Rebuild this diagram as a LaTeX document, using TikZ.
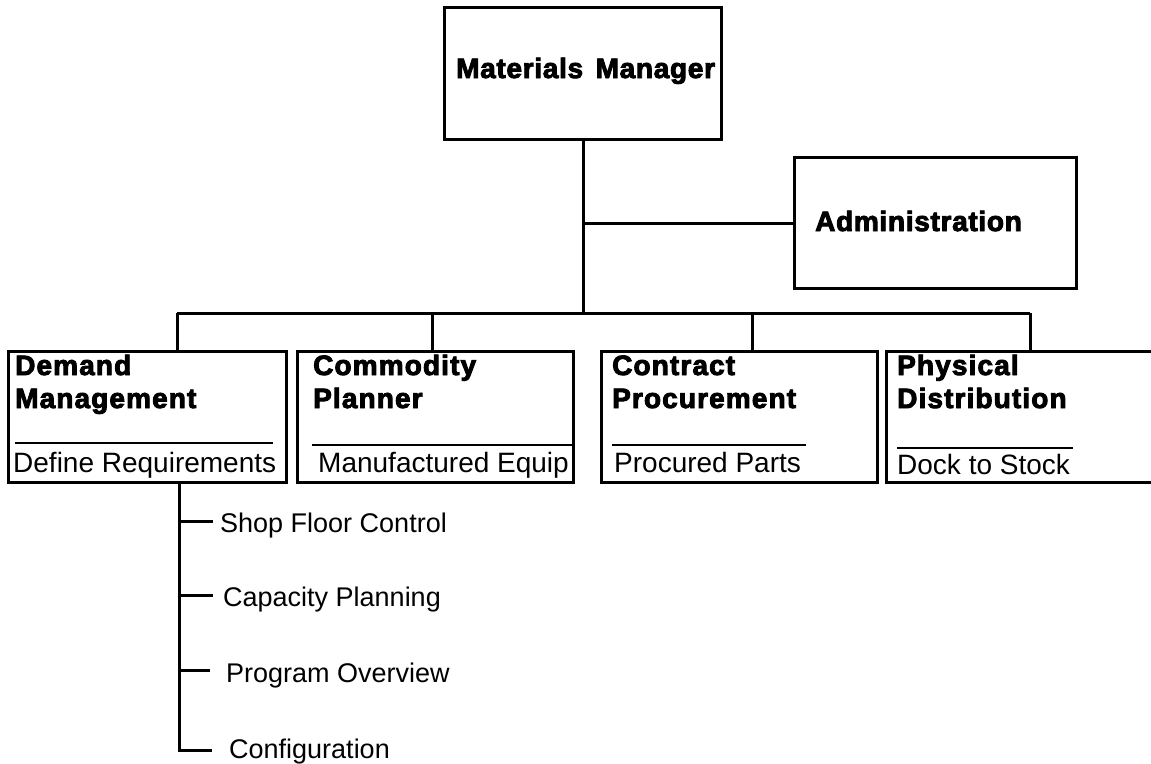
\documentclass[tikz,border=0pt]{standalone}
\usepackage{fontspec}
\setmainfont{Liberation Sans}
\newfontfamily\headfont{Liberation Sans}[LetterSpace=4]
\newfontfamily\topfont{Liberation Sans}[LetterSpace=2.5]
% heavier bold: fill and stroke the glyph outlines
\newcommand\heavy[1]{\special{pdf:literal direct 2 Tr 0.9 w}#1\special{pdf:literal direct 0 Tr}}
\begin{document}
\begin{tikzpicture}[x=1pt,y=-1pt,
  box/.style={draw, line width=3pt, inner sep=0pt, anchor=north west},
  conn/.style={line width=3pt},
  rule/.style={line width=2pt},
  head/.style={inner sep=0pt, anchor=base west, font=\headfont\bfseries\fontsize{28}{33}\selectfont},
  tophead/.style={inner sep=0pt, anchor=base west, font=\topfont\bfseries\fontsize{28}{33}\selectfont},
  sub/.style={inner sep=0pt, anchor=base west, font=\fontsize{28}{33}\selectfont},
  task/.style={inner sep=0pt, anchor=base west, font=\fontsize{27}{32}\selectfont}]
\useasboundingbox (0,0) rectangle (1151,763);

% top level and staff box
\node[box, minimum width=277pt, minimum height=132pt] (mm) at (443,6) {};
\node[tophead] (mmt) at (456,78) {\heavy{Materials\hspace{4pt} Manager}};
\node[box, minimum width=282pt, minimum height=131pt] (adm) at (793,156) {};
\node[tophead] (admt) at (815,231) {\heavy{Administration}};

% department boxes
\node[box, minimum width=278pt, minimum height=131pt] (b1) at (7,350) {};
\node[box, minimum width=276pt, minimum height=131pt] (b2) at (296,350) {};
\node[box, minimum width=276pt, minimum height=131pt] (b3) at (600,350) {};
\node[box, minimum width=300pt, minimum height=131pt] (b4) at (885,350) {};

\node[head] (b1a) at (15,375) {\heavy{Demand}};
\node[head] (b1b) at (15,408) {\heavy{Management}};
\node[sub] (b1c) at (13,472) {Define Requirements};
\node[head] (b2a) at (313,375) {\heavy{Commodity}};
\node[head] (b2b) at (313,408) {\heavy{Planner}};
\node[sub] (b2c) at (318,472) {Manufactured Equip};
\node[head] (b3a) at (612,375) {\heavy{Contract}};
\node[head] (b3b) at (612,408) {\heavy{Procurement}};
\node[sub] (b3c) at (614,472) {Procured Parts};
\node[head] (b4a) at (897,375) {\heavy{Physical}};
\node[head] (b4b) at (897,408) {\heavy{Distribution}};
\node[sub] (b4c) at (897,474) {Dock to Stock};

% rules under the department names
\draw[rule] (15,443) -- (273,443);
\draw[rule] (312,445) -- (b2.east |- 0,445);
\draw[rule] (612,445) -- (806,445);
\draw[rule] (897,448) -- (1073,448);

% connectors
\coordinate (t1) at (177,313);
\coordinate (t2) at (432,313);
\coordinate (t3) at (752,313);
\coordinate (t4) at (1030,313);
\draw[conn] (mm.south) -- (mm.south |- t1);
\draw[conn] (mm.south |- adm.west) -- (adm.west);
\draw[conn] (t1) -- (t4);
\draw[conn] (t1) -- (t1 |- b1.north);
\draw[conn] (t2) -- (t2 |- b2.north);
\draw[conn] (t3) -- (t3 |- b3.north);
\draw[conn] (t4) -- (t4 |- b4.north);

% tasks under demand management
\node[task] (s1) at (220,532) {Shop Floor Control};
\node[task] (s2) at (223,606) {Capacity Planning};
\node[task] (s3) at (226,682) {Program Overview};
\node[task] (s4) at (229,758) {Configuration};
\coordinate (v0) at (179,481);
\coordinate (e1) at (213,521);
\coordinate (e2) at (213,595);
\coordinate (e3) at (210,670);
\coordinate (e4) at (212,750);
\draw[conn] (v0) -- (v0 |- e4) -- (e4);
\draw[conn] (v0 |- e1) -- (e1);
\draw[conn] (v0 |- e2) -- (e2);
\draw[conn] (v0 |- e3) -- (e3);
\end{tikzpicture}
\end{document}
